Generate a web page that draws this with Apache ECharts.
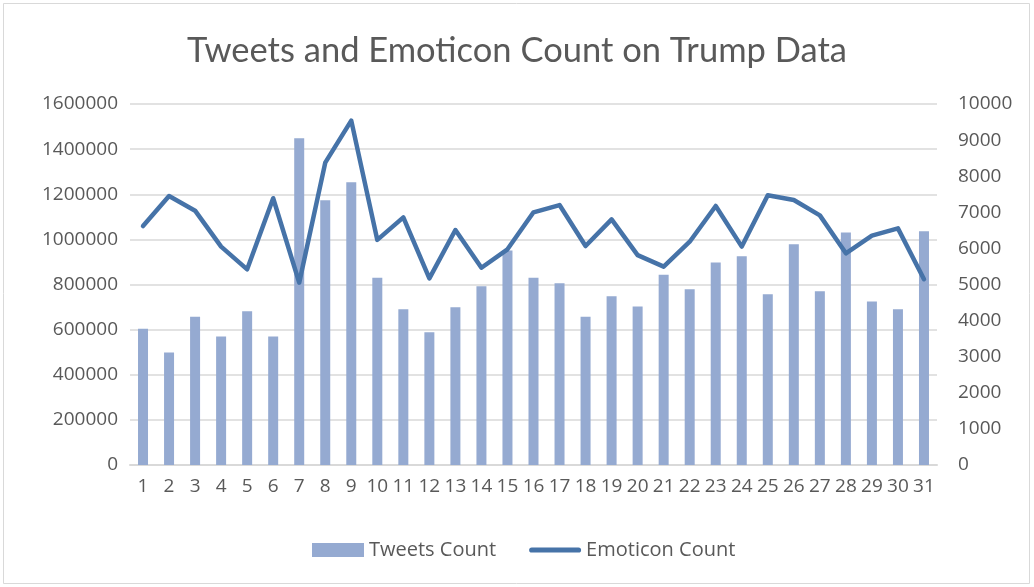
<!DOCTYPE html>
<html>
<head>
<meta charset="utf-8">
<title>Tweets and Emoticon Count on Trump Data</title>
<script src="https://cdn.jsdelivr.net/npm/echarts@6/dist/echarts.min.js"></script>
<style>
  html, body { margin: 0; padding: 0; background: #ffffff; }
  #chart { width: 1034px; height: 587px; }
</style>
</head>
<body>
<div id="chart"></div>
<script>
// Days of the month
const days = ['1','2','3','4','5','6','7','8','9','10','11','12','13','14','15','16',
              '17','18','19','20','21','22','23','24','25','26','27','28','29','30','31'];

// Number of tweets per day (left axis)
const tweetsCount = [604000, 499000, 657000, 570000, 681000, 570000, 1448000, 1173000,
                     1253000, 830000, 690000, 588000, 699000, 792000, 951000, 830000,
                     805000, 657000, 748000, 703000, 843000, 779000, 898000, 925000,
                     757000, 978000, 770000, 1031000, 725000, 690000, 1036000];

// Number of emoticons per day (right axis)
const emoticonCount = [6620, 7450, 7045, 6050, 5420, 7390, 5050, 8375,
                       9540, 6235, 6860, 5170, 6510, 5465, 5975, 7000,
                       7200, 6065, 6805, 5815, 5495, 6185, 7175, 6050,
                       7470, 7340, 6915, 5865, 6355, 6555, 5145];

// Axis tick settings
const leftMax = 1600000, leftStep = 200000;
const rightMax = 10000, rightStep = 1000;

const textColor = '#595959';
const gridColor = '#d9d9d9';
const font = 'Open Sans';
const plain = v => String(v);

const chart = echarts.init(document.getElementById('chart'));
chart.setOption({
  animation: false,
  backgroundColor: '#ffffff',
  title: {
    text: 'Tweets and Emoticon Count on Trump Data',
    left: 'center',
    top: 28,
    textStyle: { fontFamily: 'Lato', fontSize: 34.5, fontWeight: 'normal', color: textColor }
  },
  graphic: [{
    type: 'rect',
    shape: { x: 3.5, y: 3.5, width: 1026, height: 580 },
    style: { fill: 'none', stroke: gridColor, lineWidth: 1 },
    silent: true
  }],
  legend: {
    left: 307,
    top: 535,
    itemWidth: 52,
    itemHeight: 14,
    itemGap: 33,
    textStyle: { fontFamily: font, fontSize: 20, color: textColor },
    data: [
      { name: 'Tweets Count', icon: 'rect' },
      { name: 'Emoticon Count', icon: 'path://M5,0 H95 A5,5 0 0 1 95,10 H5 A5,5 0 0 1 5,0 Z' }
    ]
  },
  grid: { left: 130, right: 97, top: 104, bottom: 122, containLabel: false },
  xAxis: {
    type: 'category',
    data: days,
    axisLine: { lineStyle: { color: gridColor, width: 2 } },
    axisTick: { show: false },
    axisLabel: { fontFamily: font, fontSize: 19, color: textColor, margin: 12, interval: 0 }
  },
  yAxis: [
    {
      type: 'value',
      min: 0, max: leftMax, interval: leftStep,
      axisLine: { show: false },
      axisTick: { show: false },
      axisLabel: { fontFamily: font, fontSize: 19, color: textColor, margin: 12, formatter: plain },
      splitLine: { lineStyle: { color: gridColor, width: 1.5 } }
    },
    {
      type: 'value',
      min: 0, max: rightMax, interval: rightStep,
      axisLine: { show: false },
      axisTick: { show: false },
      axisLabel: { fontFamily: font, fontSize: 19, color: textColor, margin: 21, formatter: plain },
      splitLine: { show: false }
    }
  ],
  series: [
    {
      name: 'Tweets Count',
      type: 'bar',
      yAxisIndex: 0,
      data: tweetsCount,
      barWidth: 10,
      itemStyle: { color: '#95aad1' }
    },
    {
      name: 'Emoticon Count',
      type: 'line',
      yAxisIndex: 1,
      data: emoticonCount,
      symbol: 'none',
      showSymbol: false,
      lineStyle: { color: '#4673a8', width: 4.5, join: 'round', cap: 'round' },
      itemStyle: { color: '#4673a8' }
    }
  ]
});
</script>
</body>
</html>
